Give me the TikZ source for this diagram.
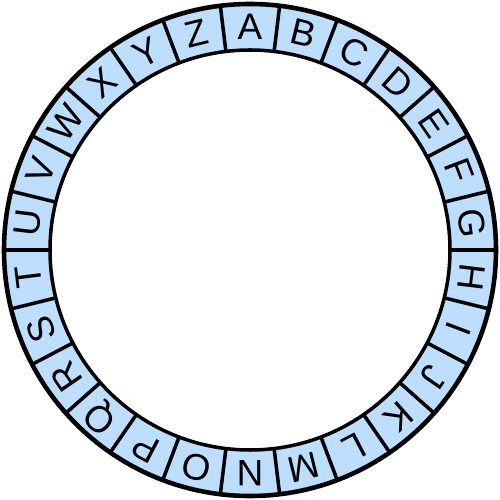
\documentclass[tikz,border=0pt]{standalone}
\usepackage{fontspec}
\setmainfont{Liberation Sans}
\usepackage{tikz}
\definecolor{ringblue}{RGB}{190,222,255}
\tikzset{
  ringline/.style={black, line width=2pt},
  letter/.style={inner sep=0pt, font=\fontsize{21}{21}\selectfont}
}
\begin{document}
\begin{tikzpicture}
\useasboundingbox (-5,-5) rectangle (5,5);
\fill [ringblue, even odd rule] (0,0) circle (4.92) (0,0) circle (4.0);
\draw [ringline, line width=2.6pt] (0,0) circle (4.92);
\draw [ringline] (0,0) circle (4.0);
\foreach \ch [count=\i from 0] in {A,B,C,D,E,F,G,H,I,J,K,L,M,N,O,P,Q,R,S,T,U,V,W,X,Y,Z} {
  \pgfmathsetmacro{\ang}{90-\i*360/26}
  \pgfmathsetmacro{\sep}{\ang+360/52}
  \coordinate (in\i) at (\sep:4.0);
  \coordinate (out\i) at (\sep:4.92);
  \draw [ringline] (in\i) -- (out\i);
  \node [letter, rotate=\ang-90] (l\i) at (\ang:4.47) {\ch};
}
\end{tikzpicture}
\end{document}
